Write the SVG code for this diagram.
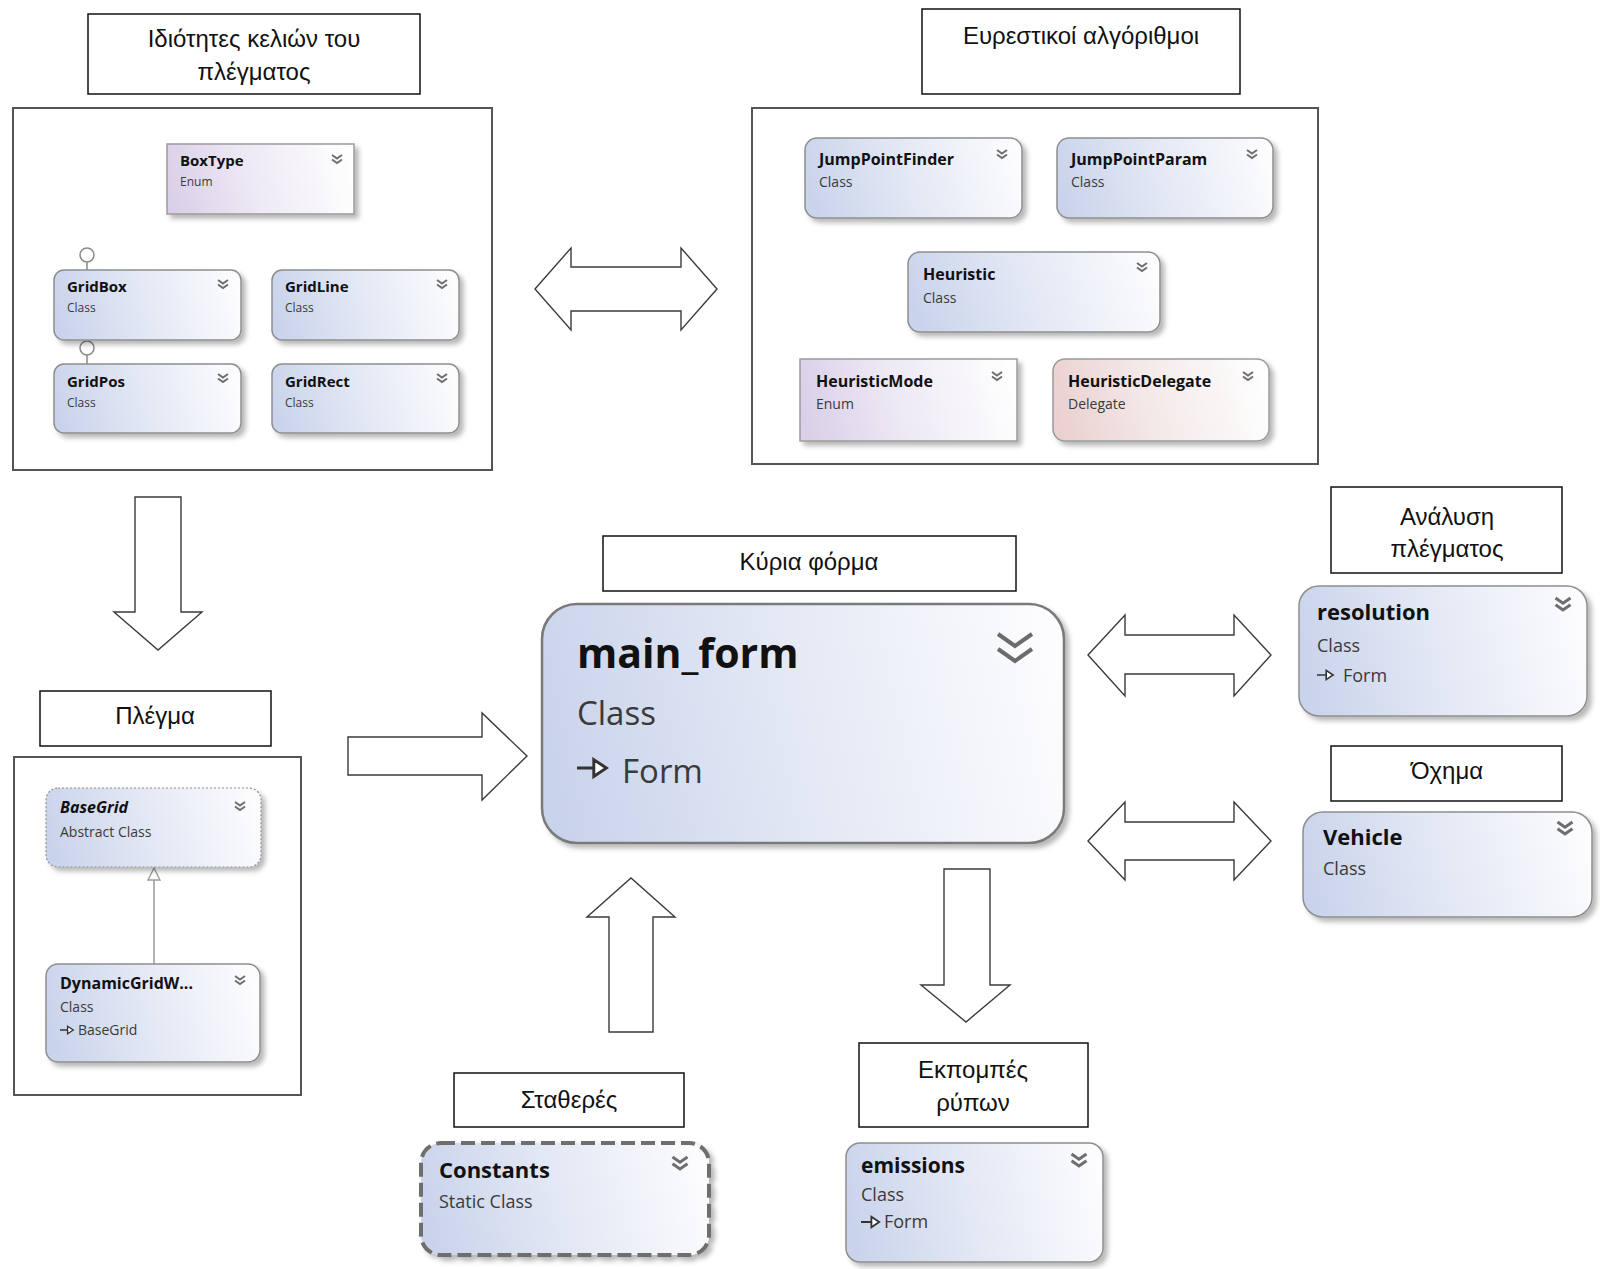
<svg xmlns="http://www.w3.org/2000/svg" width="1600" height="1269" viewBox="0 0 1600 1269">
<defs>
<linearGradient id="gClass" x1="0" y1="0.55" x2="1" y2="0.45">
<stop offset="0" stop-color="#c9d3eb"/><stop offset="0.45" stop-color="#e2e7f4"/><stop offset="1" stop-color="#fcfcfe"/>
</linearGradient>
<linearGradient id="gEnum" x1="0" y1="0.55" x2="1" y2="0.45">
<stop offset="0" stop-color="#dacfe8"/><stop offset="0.45" stop-color="#eee9f5"/><stop offset="1" stop-color="#fefefe"/>
</linearGradient>
<linearGradient id="gDel" x1="0" y1="0.55" x2="1" y2="0.45">
<stop offset="0" stop-color="#ebd0d0"/><stop offset="0.45" stop-color="#f4e9e9"/><stop offset="1" stop-color="#fefefe"/>
</linearGradient>
<filter id="sh" x="-10%" y="-10%" width="130%" height="140%">
<feDropShadow dx="4" dy="4" stdDeviation="2.5" flood-color="#000" flood-opacity="0.28"/>
</filter>
<path id="chev" d="M-5,0 L0,3.5 L5,0 M-5,4.5 L0,8 L5,4.5" fill="none" stroke="#6e6e6e" stroke-width="2"/>
<path id="inh" d="M0,0 H8 M8,-4 L14,0 L8,4 Z" fill="#fff" stroke="#333" stroke-width="1.4"/>
<style>
.lbl{fill:#fff;stroke:#111;stroke-width:1.5}
.lt{font-family:"Liberation Sans",Arial,sans-serif;font-size:24px;fill:#111;text-anchor:middle}
.cont{fill:#fff;stroke:#555;stroke-width:2}
.cls{fill:url(#gClass);stroke:#8e8e8e;stroke-width:1.5;filter:url(#sh)}
.enm{fill:url(#gEnum);stroke:#9a9a9a;stroke-width:1.5;filter:url(#sh)}
.del{fill:url(#gDel);stroke:#9a9a9a;stroke-width:1.5;filter:url(#sh)}
.nm{font-family:"Open Sans","Noto Sans",sans-serif;font-weight:700;fill:#111}
.st{font-family:"Open Sans","Noto Sans",sans-serif;fill:#3a3a3a}
.arr{fill:#fff;stroke:#3a3a3a;stroke-width:1.4}
</style>
</defs>
<rect width="1600" height="1269" fill="#fff"/>

<!-- containers -->
<g id="container-cells"><rect class="cont" x="13" y="108" width="479" height="362"/></g>
<g id="container-heuristics"><rect class="cont" x="752" y="108" width="566" height="356"/></g>
<g id="container-grid"><rect class="cont" x="14" y="757" width="287" height="338"/></g>

<!-- labels -->
<g id="label-cells"><rect class="lbl" x="88" y="14" width="332" height="80"/>
<text class="lt" x="254" y="47">Ιδιότητες κελιών του</text><text class="lt" x="254" y="80">πλέγματος</text></g>
<g id="label-heuristics"><rect class="lbl" x="922" y="9" width="318" height="85"/>
<text class="lt" x="1081" y="44">Ευρεστικοί αλγόριθμοι</text></g>
<g id="label-main"><rect class="lbl" x="603" y="536" width="413" height="55"/>
<text class="lt" x="809" y="570">Κύρια φόρμα</text></g>
<g id="label-resolution"><rect class="lbl" x="1331" y="487" width="231" height="86"/>
<text class="lt" x="1447" y="525">Ανάλυση</text><text class="lt" x="1447" y="557">πλέγματος</text></g>
<g id="label-vehicle"><rect class="lbl" x="1331" y="746" width="231" height="55"/>
<text class="lt" x="1447" y="779">Όχημα</text></g>
<g id="label-grid"><rect class="lbl" x="40" y="691" width="231" height="55"/>
<text class="lt" x="155" y="724">Πλέγμα</text></g>
<g id="label-constants"><rect class="lbl" x="454" y="1073" width="230" height="54"/>
<text class="lt" x="569" y="1108">Σταθερές</text></g>
<g id="label-emissions"><rect class="lbl" x="859" y="1043" width="229" height="84"/>
<text class="lt" x="973" y="1078">Εκπομπές</text><text class="lt" x="973" y="1111">ρύπων</text></g>

<!-- connectors -->
<g id="connectors">
<path class="arr" d="M135,497 H181 V612 H202 L158,650 L114,612 H135 Z"/>
<path class="arr" d="M348,737 H482 V713 L527,756 L482,800 V775 H348 Z"/>
<path class="arr" d="M535,289 L571,248 V267 H681 V248 L717,289 L681,330 V311 H571 V330 Z"/>
<path class="arr" d="M1088,655 L1125,615 V635 H1234 V615 L1271,655 L1234,696 V674 H1125 V696 Z"/>
<path class="arr" d="M1088,841 L1125,802 V822 H1234 V802 L1271,841 L1234,880 V860 H1125 V880 Z"/>
<path class="arr" d="M609,1032 V917 H587 L631,878 L675,917 H653 V1032 Z"/>
<path class="arr" d="M944,869 H990 V985 H1010 L966,1022 L921,985 H944 Z"/>
<line x1="154" y1="880" x2="154" y2="964" stroke="#999" stroke-width="1.5"/>
<path d="M154,868 L148,880 L160,880 Z" fill="#fff" stroke="#999" stroke-width="1.3"/>
<line x1="87" y1="262" x2="87" y2="270" stroke="#888" stroke-width="1.5"/>
<circle cx="87" cy="255" r="7" fill="#fff" stroke="#888" stroke-width="1.5"/>
<line x1="87" y1="355" x2="87" y2="364" stroke="#888" stroke-width="1.5"/>
<circle cx="87" cy="348" r="7" fill="#fff" stroke="#888" stroke-width="1.5"/>
</g>

<!-- top-left nodes -->
<g id="BoxType"><rect class="enm" x="167" y="144" width="187" height="70"/>
<text class="nm" x="180" y="166" font-size="15">BoxType</text><text class="st" x="180" y="186" font-size="12">Enum</text>
<use href="#chev" x="337" y="155"/></g>
<g id="GridBox"><rect class="cls" x="54" y="270" width="187" height="70" rx="10"/>
<text class="nm" x="67" y="292" font-size="15">GridBox</text><text class="st" x="67" y="312" font-size="12">Class</text>
<use href="#chev" x="223" y="280"/></g>
<g id="GridLine"><rect class="cls" x="272" y="270" width="187" height="70" rx="10"/>
<text class="nm" x="285" y="292" font-size="15">GridLine</text><text class="st" x="285" y="312" font-size="12">Class</text>
<use href="#chev" x="442" y="280"/></g>
<g id="GridPos"><rect class="cls" x="54" y="364" width="187" height="69" rx="10"/>
<text class="nm" x="67" y="387" font-size="15">GridPos</text><text class="st" x="67" y="407" font-size="12">Class</text>
<use href="#chev" x="223" y="374"/></g>
<g id="GridRect"><rect class="cls" x="272" y="364" width="187" height="69" rx="10"/>
<text class="nm" x="285" y="387" font-size="15">GridRect</text><text class="st" x="285" y="407" font-size="12">Class</text>
<use href="#chev" x="442" y="374"/></g>

<!-- top-right nodes -->
<g id="JumpPointFinder"><rect class="cls" x="805" y="138" width="217" height="80" rx="12"/>
<text class="nm" x="819" y="165" font-size="16">JumpPointFinder</text><text class="st" x="819" y="187" font-size="14">Class</text>
<use href="#chev" x="1002" y="150"/></g>
<g id="JumpPointParam"><rect class="cls" x="1057" y="138" width="216" height="80" rx="12"/>
<text class="nm" x="1071" y="165" font-size="16">JumpPointParam</text><text class="st" x="1071" y="187" font-size="14">Class</text>
<use href="#chev" x="1252" y="150"/></g>
<g id="Heuristic"><rect class="cls" x="908" y="252" width="252" height="80" rx="12"/>
<text class="nm" x="923" y="280" font-size="16">Heuristic</text><text class="st" x="923" y="303" font-size="14">Class</text>
<use href="#chev" x="1142" y="263"/></g>
<g id="HeuristicMode"><rect class="enm" x="800" y="359" width="217" height="82"/>
<text class="nm" x="816" y="387" font-size="16">HeuristicMode</text><text class="st" x="816" y="409" font-size="14">Enum</text>
<use href="#chev" x="997" y="372"/></g>
<g id="HeuristicDelegate"><rect class="del" x="1053" y="359" width="216" height="82" rx="12"/>
<text class="nm" x="1068" y="387" font-size="16">HeuristicDelegate</text><text class="st" x="1068" y="409" font-size="14">Delegate</text>
<use href="#chev" x="1248" y="372"/></g>

<!-- bottom-left nodes -->
<g id="BaseGrid"><rect x="46" y="788" width="215" height="79" rx="12" fill="url(#gClass)" stroke="#8e8e8e" stroke-width="1.2" stroke-dasharray="2 2" filter="url(#sh)"/>
<text class="nm" x="60" y="813" font-size="16" font-style="italic">BaseGrid</text><text class="st" x="60" y="837" font-size="14">Abstract Class</text>
<use href="#chev" x="240" y="802"/></g>
<g id="DynamicGridWalkable"><rect class="cls" x="46" y="964" width="214" height="98" rx="12"/>
<text class="nm" x="60" y="989" font-size="16">DynamicGridW...</text><text class="st" x="60" y="1012" font-size="14">Class</text>
<use href="#inh" transform="translate(60,1030) scale(0.95)"/>
<text class="st" x="78" y="1035" font-size="14">BaseGrid</text>
<use href="#chev" x="240" y="976"/></g>

<!-- main form -->
<g id="main_form"><rect x="542" y="604" width="522" height="239" rx="35" fill="url(#gClass)" stroke="#7a7a7a" stroke-width="2.5" filter="url(#sh)"/>
<text class="nm" x="577" y="668" font-size="41">main_form</text>
<text class="st" x="577" y="725" font-size="33">Class</text>
<use href="#inh" transform="translate(577,768) scale(2.1)"/>
<text class="st" x="622" y="783" font-size="33">Form</text>
<path d="M998,634 L1015,646 L1032,634 M998,649 L1015,661 L1032,649" fill="none" stroke="#6b6b6b" stroke-width="4"/></g>

<!-- right nodes -->
<g id="resolution"><rect class="cls" x="1299" y="586" width="288" height="130" rx="20"/>
<text class="nm" x="1317" y="620" font-size="22">resolution</text><text class="st" x="1317" y="652" font-size="18">Class</text>
<use href="#inh" transform="translate(1317,675) scale(1.15)"/>
<text class="st" x="1343" y="682" font-size="18">Form</text>
<use href="#chev" transform="translate(1563,598) scale(1.5)"/></g>
<g id="Vehicle"><rect class="cls" x="1303" y="812" width="289" height="105" rx="20"/>
<text class="nm" x="1323" y="845" font-size="22">Vehicle</text><text class="st" x="1323" y="875" font-size="18">Class</text>
<use href="#chev" transform="translate(1565,822) scale(1.5)"/></g>

<!-- bottom nodes -->
<g id="Constants"><rect x="421" y="1143" width="288" height="112" rx="20" fill="url(#gClass)" stroke="#6e6e6e" stroke-width="4" stroke-dasharray="14 6" filter="url(#sh)"/>
<text class="nm" x="439" y="1178" font-size="22">Constants</text><text class="st" x="439" y="1208" font-size="18">Static Class</text>
<use href="#chev" transform="translate(680,1157) scale(1.5)"/></g>
<g id="emissions"><rect class="cls" x="846" y="1143" width="257" height="119" rx="14"/>
<text class="nm" x="861" y="1173" font-size="21">emissions</text><text class="st" x="861" y="1201" font-size="18">Class</text>
<use href="#inh" transform="translate(861,1222) scale(1.3)"/>
<text class="st" x="884" y="1228" font-size="18">Form</text>
<use href="#chev" transform="translate(1079,1154) scale(1.5)"/></g>
</svg>
